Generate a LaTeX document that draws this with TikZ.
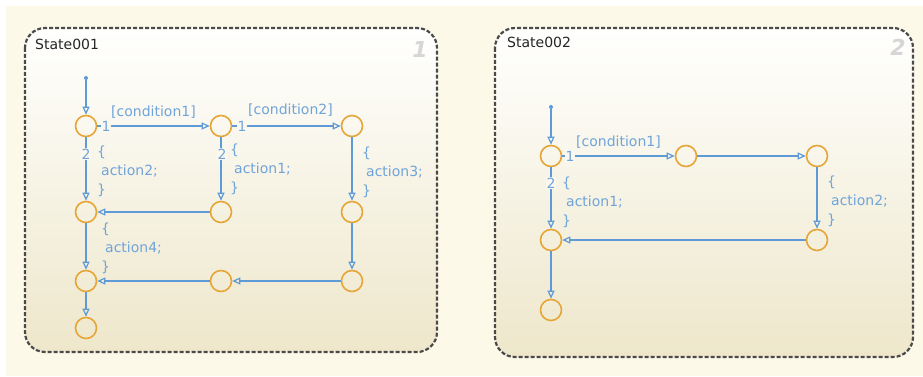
\documentclass[tikz,border=0pt]{standalone}
\usepackage{fontspec}
\setmainfont{DejaVu Sans}
\usepackage{xcolor}
\usepackage{tikz}
\usetikzlibrary{arrows.meta,positioning}

\definecolor{pagebg}{HTML}{FDF9E9}
\definecolor{charttop}{HTML}{FFFFFE}
\definecolor{chartbot}{HTML}{EEE7CB}
\definecolor{chartedge}{HTML}{4A4A4A}
\definecolor{stateorange}{HTML}{E6A637}
\definecolor{transblue}{HTML}{5D9AD6}
\definecolor{labelblue}{HTML}{6FA4DA}
\definecolor{chartno}{HTML}{D6D6D6}

\begin{document}
\begin{tikzpicture}[
    >={Triangle[open,length=8pt,width=7pt]},
    x=1pt, y=-1pt,
    chart/.style={draw=chartedge,line width=2.2pt,dash pattern=on 4pt off 2pt,
                  rounded corners=20pt,top color=charttop,bottom color=chartbot},
    cname/.style={anchor=west,inner sep=0pt,text=black!85,font=\fontsize{14}{16}\selectfont},
    cno/.style={inner sep=0pt,text=chartno,font=\fontsize{22}{24}\selectfont\bfseries\itshape},
    st/.style={circle,draw=stateorange,line width=1.6pt,minimum size=21pt,inner sep=0pt},
    dflt/.style={circle,fill=transblue,minimum size=4pt,inner sep=0pt},
    trans/.style={->,draw=transblue,line width=1.2pt},
    guard/.style={inner sep=0pt,text=labelblue,font=\fontsize{14}{16}\selectfont},
    act/.style={guard,anchor=north west,align=left,font=\fontsize{14}{19}\selectfont},
    num/.style={guard,fill=charttop!70!chartbot,inner sep=1pt},
  ]

  % page and the two chart boxes
  \fill[white] (0,0) rectangle (923,377);
  \useasboundingbox (0,0) rectangle (923,377);
  \fill[pagebg] (6,6) rectangle (923,376);
  \path[chart] (25,28) rectangle (437,352);
  \path[chart] (495,28) rectangle (913,357);
  \node[cname] (n1) at (35,44) {State001};
  \node[cname] (n2) at (507,42) {State002};
  \node[cno] (k1) at (420,49) {1};
  \node[cno] (k2) at (898,47) {2};

  % --- State001: states ---
  \node[dflt] (a0)  at (86,78)   {};
  \node[st]   (a11) at (86,126)  {};
  \node[st]   (a12) at (221,126) {};
  \node[st]   (a13) at (352,126) {};
  \node[st]   (a21) at (86,212)  {};
  \node[st]   (a22) at (221,212) {};
  \node[st]   (a23) at (352,212) {};
  \node[st]   (a31) at (86,281)  {};
  \node[st]   (a32) at (221,281) {};
  \node[st]   (a33) at (352,281) {};
  \node[st]   (a41) at (86,328)  {};

  % --- State001: transitions ---
  \draw[trans] (a0) -- (a11);
  \draw[trans] (a11) -- node[guard,above=7pt] {[condition1]} (a12);
  \draw[trans] (a12) -- node[guard,above=9pt,xshift=4pt] {[condition2]} (a13);
  \draw[trans] (a11) -- (a21);
  \draw[trans] (a12) -- (a22);
  \draw[trans] (a13) -- (a23);
  \draw[trans] (a22) -- (a21);
  \draw[trans] (a21) -- (a31);
  \draw[trans] (a23) -- (a33);
  \draw[trans] (a33) -- (a32);
  \draw[trans] (a32) -- (a31);
  \draw[trans] (a31) -- (a41);

  % execution order and actions
  \node[num] (o11) at (106,126) {1};
  \node[num] (o12) at (242,126) {1};
  \node[num] (o21) at (86,154)  {2};
  \node[num] (o22) at (222,154) {2};
  \node[act] (t1) at (97,146)  {\{\\\hspace*{4pt}action2;\\\}};
  \node[act] (t2) at (230,144) {\{\\\hspace*{4pt}action1;\\\}};
  \node[act] (t3) at (362,147) {\{\\\hspace*{4pt}action3;\\\}};
  \node[act] (t4) at (101,223) {\{\\\hspace*{4pt}action4;\\\}};

  % --- State002: states ---
  \node[dflt] (b0)  at (551,107) {};
  \node[st]   (b11) at (551,156) {};
  \node[st]   (b12) at (686,156) {};
  \node[st]   (b13) at (817,156) {};
  \node[st]   (b21) at (551,240) {};
  \node[st]   (b23) at (817,240) {};
  \node[st]   (b31) at (551,310) {};

  % --- State002: transitions ---
  \draw[trans] (b0) -- (b11);
  \draw[trans] (b11) -- node[guard,above=7pt] {[condition1]} (b12);
  \draw[trans] (b12) -- (b13);
  \draw[trans] (b11) -- (b21);
  \draw[trans] (b13) -- (b23);
  \draw[trans] (b23) -- (b21);
  \draw[trans] (b21) -- (b31);

  \node[num] (p11) at (570,156) {1};
  \node[num] (p21) at (551,183) {2};
  \node[act] (u1) at (562,177) {\{\\\hspace*{4pt}action1;\\\}};
  \node[act] (u2) at (827,176) {\{\\\hspace*{4pt}action2;\\\}};

\end{tikzpicture}
\end{document}
